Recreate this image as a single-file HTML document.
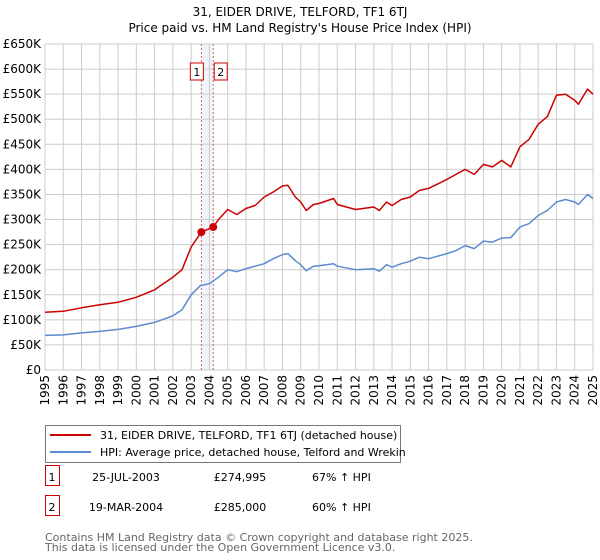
<!DOCTYPE html>
<html><head><meta charset="utf-8"><style>
body{margin:0;background:#fff;font-family:"DejaVu Sans","Liberation Sans",sans-serif;}
#wrap{position:relative;width:600px;height:560px;overflow:hidden}
svg text{font-family:"DejaVu Sans","Liberation Sans",sans-serif}
</style></head><body><div id="wrap">
<svg id="chart" width="600" height="560"></svg>
</div>
<script>
const yTicks=[0,50,100,150,200,250,300,350,400,450,500,550,600,650];
const yTickLabels=["£0","£50K","£100K","£150K","£200K","£250K","£300K","£350K","£400K","£450K","£500K","£550K","£600K","£650K"];
const xYears=[1995,1996,1997,1998,1999,2000,2001,2002,2003,2004,2005,2006,2007,2008,2009,2010,2011,2012,2013,2014,2015,2016,2017,2018,2019,2020,2021,2022,2023,2024,2025];
const hpiT=[1995,1996,1997,1998,1999,2000,2001,2002,2002.5,2003,2003.5,2004,2004.5,2005,2005.5,2006,2007,2007.5,2008,2008.3,2008.7,2009,2009.3,2009.7,2010,2010.8,2011,2012,2013,2013.3,2013.7,2014,2014.5,2015,2015.5,2016,2017,2017.5,2018,2018.5,2019,2019.5,2020,2020.5,2021,2021.5,2022,2022.5,2023,2023.5,2024,2024.2,2024.7,2025];
const hpiV=[69,70,74,77,81,87,95,108,120,150,168,172,185,200,196,202,212,222,230,232,218,210,198,207,208,212,207,200,202,197,210,205,212,217,225,222,232,238,248,242,257,255,263,264,285,292,308,318,335,340,335,330,350,342];
const redT=[1995,1996,1997,1998,1999,2000,2001,2002,2002.5,2003,2003.56,2004.21,2004.5,2005,2005.5,2006,2006.5,2007,2007.5,2008,2008.3,2008.7,2009,2009.3,2009.7,2010,2010.8,2011,2012,2013,2013.3,2013.7,2014,2014.5,2015,2015.5,2016,2017,2017.5,2018,2018.5,2019,2019.5,2020,2020.5,2021,2021.5,2022,2022.5,2023,2023.5,2024,2024.2,2024.7,2025];
const redV=[115,117,124,130,135,145,160,185,200,245,275,285,300,320,310,322,328,345,355,367,368,345,335,318,330,332,342,330,320,325,318,335,328,340,345,358,362,380,390,400,390,410,405,418,405,445,460,490,505,548,550,538,530,560,550];
const saleT=[2003.56,2004.21];
const saleV=[274.995,285];
const saleLabels=["1","2"];
const rowDates=["25-JUL-2003","19-MAR-2004"];
const rowPrices=["£274,995","£285,000"];
const rowPct=["67% ↑ HPI","60% ↑ HPI"];

const X0=45,X1=593,Y0=370,Y1=44;
const xs=t=>X0+(t-1995)/30*(X1-X0);
const ys=v=>Y0-v/650*(Y0-Y1);
const svg=document.getElementById('chart');
const NS='http://www.w3.org/2000/svg';
function mk(tag,at,parent){const e=document.createElementNS(NS,tag);for(const k in at)e.setAttribute(k,at[k]);(parent||svg).appendChild(e);return e;}

let t=mk('text',{x:300,y:16,'text-anchor':'middle','font-size':12,fill:'#000'});


t.textContent='31, EIDER DRIVE, TELFORD, TF1 6TJ';
t=mk('text',{x:300,y:32,'text-anchor':'middle','font-size':12,fill:'#000'});


t.textContent="Price paid vs. HM Land Registry's House Price Index (HPI)";

let band=mk('rect',{x:xs(saleT[0]),y:Y1,width:xs(saleT[1])-xs(saleT[0]),height:Y0-Y1,fill:'#e8eef8',opacity:0.7});



yTicks.forEach((v,i)=>{
  const g=mk('line',{x1:X0,x2:X1,y1:ys(v),y2:ys(v),stroke:'#cccccc','stroke-width':1});
  
  
  const l=mk('text',{x:X0-4,y:ys(v)+4,'text-anchor':'end','font-size':12,fill:'#000'});
  
  
  l.textContent=yTickLabels[i];
});
xYears.forEach(yr=>{
  const g=mk('line',{x1:xs(yr),x2:xs(yr),y1:Y1,y2:Y0,stroke:'#cccccc','stroke-width':1});
  
  
  const l=mk('text',{x:0,y:0,'text-anchor':'end','font-size':12,fill:'#000',transform:`translate(${xs(yr)+4},${Y0+5}) rotate(-90)`});
  
  
  l.textContent=yr;
});

saleT.forEach((s,i)=>{
  const l=mk('line',{x1:xs(s),x2:xs(s),y1:Y1,y2:Y0,stroke:'#e06060','stroke-width':1,'stroke-dasharray':'2,2'});
  
  
});

function path(T,V,color,name){
  const d=T.map((tt,i)=>(i?'L':'M')+xs(tt).toFixed(1)+','+ys(V[i]).toFixed(1)).join('');
  const p=mk('path',{d,fill:'none',stroke:color,'stroke-width':1.5,'stroke-linejoin':'round'});
  
  
}
path(hpiT,hpiV,'#5b8bd0','hpi-line');
path(redT,redV,'#cc0000','property-price-line');

saleT.forEach((s,i)=>{
  const c=mk('circle',{cx:xs(s),cy:ys(saleV[i]),r:4,fill:'#cc0000'});
  
  
  const bx=i==0?xs(s)-11:xs(s)+1;
  const r=mk('rect',{x:bx,y:63,width:13,height:17,fill:'#fff',stroke:'#cc0000','stroke-width':1});
  
  
  const tx=mk('text',{x:bx+6.5,y:76,'text-anchor':'middle','font-size':11,fill:'#000'});
  
  
  tx.textContent=saleLabels[i];
});

const lg=mk('rect',{x:45.5,y:425.5,width:355,height:37,fill:'#fff',stroke:'#777'});


[['#cc0000','31, EIDER DRIVE, TELFORD, TF1 6TJ (detached house)',435],['#5b8bd0','HPI: Average price, detached house, Telford and Wrekin',452]].forEach(([c,s,y])=>{
  const l=mk('line',{x1:50,x2:91,y1:y,y2:y,stroke:c,'stroke-width':2});
  
  
  const tx=mk('text',{x:100,y:y+4,'font-size':11,fill:'#000'});
  
  
  tx.textContent=s;
});

[483,513].forEach((y,i)=>{
  const r=mk('rect',{x:45.5,y:y-17.5,width:14,height:20,fill:'#fff',stroke:'#cc0000'});
  
  
  const cells=[[52,saleLabels[i],'middle'],[126,rowDates[i],'middle'],[240,rowPrices[i],'middle'],[312,rowPct[i],'start']];
  cells.forEach(([x,s,a])=>{
    const tx=mk('text',{x,y:y-2,'text-anchor':a,'font-size':11,fill:'#000'});
    
    
    tx.textContent=s;
  });
});
[['Contains HM Land Registry data © Crown copyright and database right 2025.',541],['This data is licensed under the Open Government Licence v3.0.',551]].forEach(([s,y])=>{
  const tx=mk('text',{x:45,y,'font-size':11,fill:'#666'});
  
  
  tx.textContent=s;
});
</script></body></html>
